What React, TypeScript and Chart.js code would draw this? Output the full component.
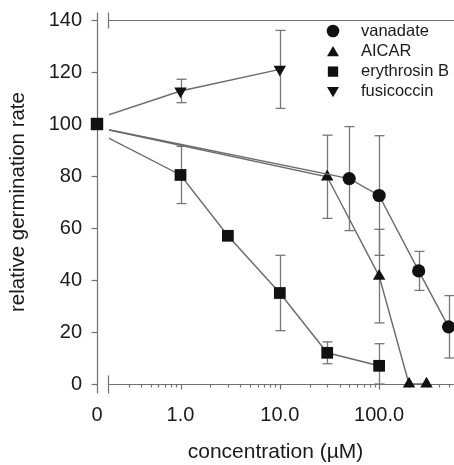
import React, { useEffect, useRef } from "react";
import { Chart, registerables } from "chart.js";

Chart.register(...registerables);

// ---------------- data ----------------
const seriesNames = ["vanadate", "AICAR", "erythrosin B", "fusicoccin"];

const vanadateConc = [0, 50, 100, 250, 500];
const vanadateRate = [100, 79, 72.5, 43.5, 22];
const vanadateErr = [0, 20, 23, 7.5, 12];

const aicarConc = [0, 30, 100, 200, 300];
const aicarRate = [100, 79.7, 41.5, 0, 0];
const aicarErr = [0, 16, 18, 0, 0];

const erythrosinConc = [0, 1, 3, 10, 30, 100];
const erythrosinRate = [100, 80.4, 57, 35, 12, 7];
const erythrosinErr = [0, 11, 0, 14.5, 4.2, 8.5];

const fusicoccinConc = [0, 1, 10];
const fusicoccinRate = [100, 112.7, 121];
const fusicoccinErr = [0, 4.5, 15];

const xTickConc = [0, 1, 10, 100];
const xTickLabels = ["0", "1.0", "10.0", "100.0"];
const xMinorConc = [
  0.3, 0.4, 0.5, 0.6, 0.7, 0.8, 0.9,
  2, 3, 4, 5, 6, 7, 8, 9,
  20, 30, 40, 50, 60, 70, 80, 90,
  200, 300, 400, 500,
];
const yTickValues = [0, 20, 40, 60, 80, 100, 120, 140];

// ---------------- layout / style ----------------
const W = 454;
const H = 465;
const X_MIN = -0.841;
const X_MAX = 2.754;
const ZERO_LINE_POS = -1.0; // where the segment from the control value originates
const ZERO_MARK_POS = X_MIN; // where the control marker is drawn (on the axis)
const BREAK_POS = -0.73;

const FONT = "'Liberation Sans', Arial, Helvetica, sans-serif";
const TEXT = "#1a1a1a";
const AXIS_COLOR = "#707070";
const LINE_COLOR = "#6a6a6a";
const ERR_COLOR = "#777777";
const MARK = "#111111";

function logPos(c: number) {
  return c === 0 ? ZERO_LINE_POS : Math.log10(c);
}
function xPos(c: number) {
  return c === 0 ? ZERO_MARK_POS : Math.log10(c);
}

const seriesDefs = [
  { conc: vanadateConc, rate: vanadateRate, err: vanadateErr, style: "circle", r: 6.6, rot: 0 },
  { conc: aicarConc, rate: aicarRate, err: aicarErr, style: "triangle", r: 7.2, rot: 0 },
  { conc: erythrosinConc, rate: erythrosinRate, err: erythrosinErr, style: "rect", r: 8.3, rot: 0 },
  { conc: fusicoccinConc, rate: fusicoccinRate, err: fusicoccinErr, style: "triangle", r: 7.2, rot: 180 },
];

function drawMarker(ctx: CanvasRenderingContext2D, style: string, x: number, y: number, r: number, rotDeg: number) {
  const rad0 = (rotDeg * Math.PI) / 180;
  ctx.beginPath();
  if (style === "circle") {
    ctx.arc(x, y, r, 0, Math.PI * 2);
  } else if (style === "triangle") {
    let rad = rad0;
    ctx.moveTo(x + Math.sin(rad) * r, y - Math.cos(rad) * r);
    rad += (2 * Math.PI) / 3;
    ctx.lineTo(x + Math.sin(rad) * r, y - Math.cos(rad) * r);
    rad += (2 * Math.PI) / 3;
    ctx.lineTo(x + Math.sin(rad) * r, y - Math.cos(rad) * r);
    ctx.closePath();
  } else {
    const s = Math.SQRT1_2 * r;
    ctx.rect(x - s, y - s, 2 * s, 2 * s);
  }
  ctx.fill();
}

const brokenAxisPlugin = {
  id: "brokenAxis",
  beforeDatasetsDraw(chart: any) {
    const { ctx, chartArea: a } = chart;
    const xs = chart.scales.x;
    const ys = chart.scales.y;
    const ax = Math.round(a.left) + 0.5;
    const bx = Math.round(xs.getPixelForValue(BREAK_POS)) + 0.5;
    const top = Math.round(a.top) + 0.5;
    const bot = Math.round(a.bottom) + 0.5;
    const seg = (x1: number, y1: number, x2: number, y2: number) => {
      ctx.beginPath();
      ctx.moveTo(x1, y1);
      ctx.lineTo(x2, y2);
      ctx.stroke();
    };
    ctx.save();
    ctx.strokeStyle = AXIS_COLOR;
    ctx.lineWidth = 1.2;
    seg(ax, top - 8, ax, bot + 9);
    seg(bx, top - 8, bx, top + 8);
    seg(bx, bot - 9, bx, bot + 9);
    seg(bx, top, chart.width, top);
    seg(bx, bot, chart.width, bot);
    yTickValues.forEach((v) => {
      const py = Math.round(ys.getPixelForValue(v)) + 0.5;
      seg(ax - 6, py, ax, py);
    });
    xTickConc.slice(1).forEach((c) => {
      const px = Math.round(xs.getPixelForValue(Math.log10(c))) + 0.5;
      seg(px, bot, px, bot + 5);
    });
    xMinorConc.forEach((c) => {
      const px = Math.round(xs.getPixelForValue(Math.log10(c))) + 0.5;
      seg(px, bot, px, bot + 3);
    });

    // error bars
    ctx.strokeStyle = ERR_COLOR;
    ctx.lineWidth = 1.3;
    chart.data.datasets.forEach((ds: any) => {
      if (!ds.errors) return;
      ds.errors.forEach((e: number, i: number) => {
        if (!e || ds.concs[i] === 0) return;
        const v = ds.rates[i];
        const px = Math.round(xs.getPixelForValue(Math.log10(ds.concs[i]))) + 0.5;
        const pt = ys.getPixelForValue(v + e);
        const pb = ys.getPixelForValue(Math.max(0, v - e));
        seg(px, pt, px, pb);
        seg(px - 5, pt, px + 5, pt);
        seg(px - 5, pb, px + 5, pb);
      });
    });
    ctx.restore();
  },
  beforeDatasetDraw(chart: any, args: any) {
    const ds = chart.data.datasets[args.index];
    if (!ds.brokenClip) return;
    const { ctx } = chart;
    const bx = chart.scales.x.getPixelForValue(BREAK_POS) + 1;
    ctx.save();
    ctx.beginPath();
    ctx.rect(bx, 0, chart.width - bx, chart.height);
    ctx.clip();
  },
  afterDatasetDraw(chart: any, args: any) {
    const ds = chart.data.datasets[args.index];
    if (!ds.brokenClip) return;
    chart.ctx.restore();
  },
  afterDraw(chart: any) {
    const { ctx } = chart;
    ctx.save();
    ctx.font = `16.5px ${FONT}`;
    ctx.textBaseline = "middle";
    ctx.textAlign = "left";
    seriesDefs.forEach((s, i) => {
      const y = 31 + i * 20.3;
      ctx.fillStyle = MARK;
      drawMarker(
        ctx,
        s.style,
        333,
        y + (s.style === "triangle" ? (s.rot ? -1.5 : 1.5) : 0),
        s.style === "rect" ? 7.3 : s.r - 0.3,
        s.rot
      );
      ctx.fillStyle = TEXT;
      ctx.fillText(seriesNames[i], 361, y);
    });
    ctx.restore();
  },
};

function zeroPadding(scale: any) {
  scale.paddingTop = 0;
  scale.paddingBottom = 0;
  scale.paddingLeft = 0;
  scale.paddingRight = 0;
}

export default function App() {
  const ref = useRef<HTMLCanvasElement | null>(null);

  useEffect(() => {
    if (!ref.current) return;
    const datasets: any[] = seriesDefs.map((s, si) => ({
      type: "line",
      label: seriesNames[si],
      data: s.conc.map((c, i) => ({ x: logPos(c), y: s.rate[i] })),
      concs: s.conc,
      rates: s.rate,
      errors: s.err,
      brokenClip: true,
      borderColor: LINE_COLOR,
      borderWidth: 1.4,
      tension: 0,
      fill: false,
      pointStyle: s.style,
      pointRotation: s.rot,
      pointRadius: (c: any) => (c.dataIndex === 0 ? 0 : s.r),
      pointHoverRadius: 0,
      pointBackgroundColor: MARK,
      pointBorderColor: MARK,
      pointBorderWidth: 0,
      clip: false,
    }));
    datasets.push({
      type: "scatter",
      label: "control",
      data: [{ x: xPos(erythrosinConc[0]), y: erythrosinRate[0] }],
      pointStyle: "rect",
      pointRadius: 8.8,
      pointBackgroundColor: MARK,
      pointBorderColor: MARK,
      pointBorderWidth: 0,
      clip: false,
    });

    const chart = new Chart(ref.current, {
      type: "line",
      data: { datasets },
      plugins: [brokenAxisPlugin],
      options: {
        animation: false,
        responsive: false,
        devicePixelRatio: 1,
        layout: { autoPadding: false, padding: { top: 20, left: 0, right: 0, bottom: 0 } },
        plugins: { legend: { display: false }, tooltip: { enabled: false } },
        scales: {
          x: {
            type: "linear",
            min: X_MIN,
            max: X_MAX,
            grid: { display: false, drawTicks: true, tickLength: 19 },
            border: { display: false },
            afterBuildTicks: (scale: any) => {
              scale.ticks = xTickConc.map((c) => ({ value: xPos(c) }));
            },
            afterFit: (scale: any) => {
              scale.height = H - 384;
              zeroPadding(scale);
            },
            ticks: {
              autoSkip: false,
              maxRotation: 0,
              minRotation: 0,
              padding: 0,
              color: TEXT,
              font: { family: FONT, size: 20 },
              callback: (_v: any, i: number) => xTickLabels[i],
            },
            title: {
              display: true,
              text: "concentration (µM)",
              color: TEXT,
              font: { family: FONT, size: 21 },
              padding: { top: 0, bottom: 0 },
            },
          },
          y: {
            type: "linear",
            min: 0,
            max: 140,
            grid: { display: false, drawTicks: false },
            border: { display: false },
            afterBuildTicks: (scale: any) => {
              scale.ticks = yTickValues.map((v) => ({ value: v }));
            },
            afterFit: (scale: any) => {
              scale.width = 97;
              zeroPadding(scale);
            },
            ticks: {
              padding: 15,
              color: TEXT,
              font: { family: FONT, size: 20 },
            },
            title: {
              display: true,
              text: "relative germination rate",
              color: TEXT,
              font: { family: FONT, size: 20.5 },
              padding: { top: 6, bottom: 0 },
            },
          },
        },
      } as any,
    });
    return () => chart.destroy();
  }, []);

  return (
    <div style={{ position: "fixed", left: 0, top: 0, width: W, height: H, background: "#fff" }}>
      <canvas ref={ref} width={W} height={H} style={{ display: "block", width: W, height: H }} />
    </div>
  );
}
